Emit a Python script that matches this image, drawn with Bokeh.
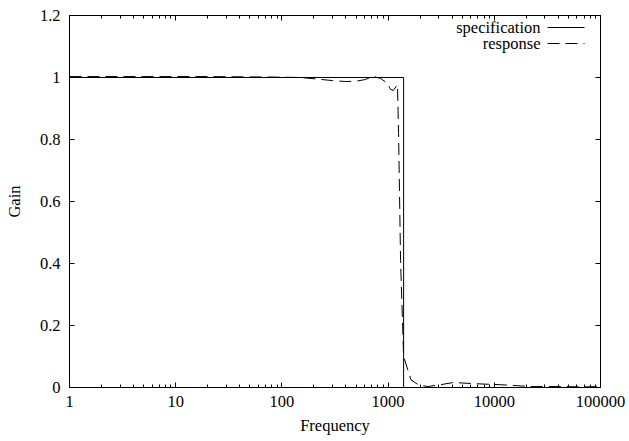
from bokeh.plotting import figure
from bokeh.models import (FixedTicker, CustomJSTickFormatter, LinearAxis, LogAxis,
                          Label, Arrow)
from bokeh.embed import file_html
from bokeh.resources import INLINE

# ---- data ----
spec_freq = [1, 1400, 1400, 100000]
spec_gain = [1.0, 1.0, 0.0, 0.0]

resp_freq = [1, 2, 5, 10, 20, 50, 100, 150, 200, 300, 400, 500, 600, 730, 850,
             990, 1050, 1120, 1225, 1255, 1310, 1400, 1640, 1900, 2350, 3000,
             4100, 6000, 8000, 11400, 16000, 22000, 30000, 45000, 70000, 100000]
resp_gain = [1.003, 1.003, 1.003, 1.003, 1.003, 1.002, 1.001, 1.0, 0.996, 0.990,
             0.987, 0.988, 0.993, 1.003, 0.997, 0.981, 0.962, 0.958, 0.977, 0.82,
             0.41, 0.10, 0.025, 0.010, 0.003, 0.008, 0.016, 0.013, 0.011, 0.009,
             0.006, 0.003, 0.003, 0.003, 0.002, 0.003]

x_ticks = [1, 10, 100, 1000, 10000, 100000]
x_minor_ticks = [m * 10 ** d for d in range(5) for m in range(2, 10)]
y_ticks = [0, 0.2, 0.4, 0.6, 0.8, 1.0, 1.2]

x_title = "Frequency"
y_title = "Gain"
legend_labels = ["specification", "response"]

FONT = "Liberation Serif"
FS = "16.5px"

p = figure(width=629, height=441, x_axis_type="log", x_range=(1, 100000),
           y_range=(0, 1.2), output_backend="svg", toolbar_location=None,
           min_border_left=69, min_border_right=29, min_border_top=15,
           min_border_bottom=54, background_fill_color="white",
           border_fill_color="white", outline_line_color="black")
p.xgrid.visible = False
p.ygrid.visible = False

p.line(spec_freq, spec_gain, line_color="black", line_width=1)
p.line(resp_freq, resp_gain, line_color="black", line_width=1, line_dash="12 6")

xt = FixedTicker(ticks=x_ticks, minor_ticks=x_minor_ticks)
yt = FixedTicker(ticks=y_ticks, minor_ticks=[])
blank = CustomJSTickFormatter(code="return ''")


def style(ax):
    ax.axis_line_color = "black"
    ax.major_tick_line_color = "black"
    ax.minor_tick_line_color = "black"
    ax.major_tick_out = 0
    ax.minor_tick_out = 0
    ax.major_label_text_font = FONT
    ax.major_label_text_font_size = FS
    ax.major_label_text_color = "black"
    ax.axis_label_text_font = FONT
    ax.axis_label_text_font_size = FS
    ax.axis_label_text_font_style = "normal"
    ax.axis_label_text_color = "black"


xa = p.xaxis[0]
xa.ticker = xt
xa.formatter = CustomJSTickFormatter(code="return String(Math.round(tick))")
xa.axis_label = x_title
style(xa)
xa.major_tick_in = 5
xa.minor_tick_in = 3
xa.major_label_standoff = 8
xa.axis_label_standoff = 6

ya = p.yaxis[0]
ya.ticker = yt
ya.formatter = CustomJSTickFormatter(code="return String(Math.round(tick*10)/10)")
ya.axis_label = y_title
style(ya)
ya.major_tick_in = 5
ya.minor_tick_in = 0
ya.major_label_standoff = 9
ya.axis_label_standoff = 13

top = LogAxis(ticker=xt, formatter=blank)
style(top)
top.major_tick_in = 5
top.minor_tick_in = 3
top.major_label_standoff = 0
p.add_layout(top, "above")

right = LinearAxis(ticker=yt, formatter=blank)
style(right)
right.major_tick_in = 5
right.minor_tick_in = 0
right.major_label_standoff = 0
p.add_layout(right, "right")

# legend (text right-aligned, sample line to the right)
dashes = [None, "12 6"]
for i, lab in enumerate(legend_labels):
    yy = 360 - 16 * i
    p.add_layout(Label(x=471, y=yy, x_units="screen", y_units="screen", text=lab,
                       text_align="right", text_baseline="middle",
                       text_font=FONT, text_font_size=FS, text_color="black"))
    arr = Arrow(start=None, end=None, x_start=478, y_start=yy, x_end=515, y_end=yy,
                start_units="screen", end_units="screen", line_color="black",
                line_width=1)
    if dashes[i]:
        arr.line_dash = dashes[i]
    p.add_layout(arr)

open("out.html", "w").write(file_html(p, INLINE))
